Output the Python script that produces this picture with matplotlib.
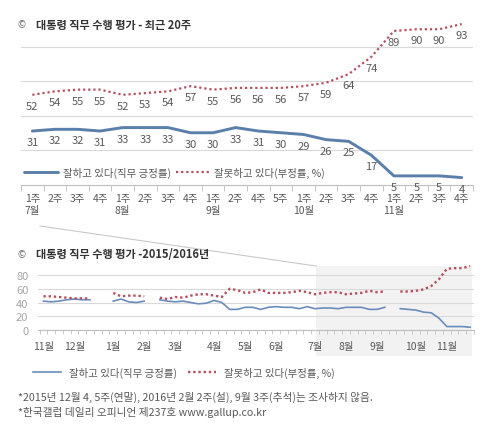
import numpy as np
import matplotlib
matplotlib.use('Agg')
import matplotlib.pyplot as plt
from matplotlib.lines import Line2D
from matplotlib.patches import Rectangle

plt.rcParams['font.family'] = ['Noto Sans CJK KR', 'DejaVu Sans']

# 최근 20주 (2016년 7월 1주 ~ 11월 4주, 9월 3주 제외)
recent_weeks = ['1주', '2주', '3주', '4주', '1주', '2주', '3주', '4주', '1주', '2주',
                '4주', '5주', '1주', '2주', '3주', '4주', '1주', '2주', '3주', '4주']
recent_months = ['7월', '', '', '', '8월', '', '', '', '9월', '', '', '',
                 '10월', '', '', '', '11월', '', '', '']
recent_pos = [31, 32, 32, 31, 33, 33, 33, 30, 30, 33, 31, 30, 29, 26, 25, 17, 5, 5, 5, 4]
recent_neg = [52, 54, 55, 55, 52, 53, 54, 57, 55, 56, 56, 56, 57, 59, 64, 74, 89, 90, 90, 93]

# 2015/2016년 주간 (2015년 11월 1주 ~ 2016년 6월 마지막 주), None = 조사 안 함
early_pos = [42, 41, 42, 44, 45, 44, 44, None, None, 42, 45, 41, 40, 42, None,
             44, 42, 41, 42, 40, 38, 39, 43, 40, 30, 30, 33, 33, 30, 33, 34, 33, 33, 31, 34]
early_neg = [49, 49, 48, 47, 46, 46, 46, None, None, 54, 49, 50, 50, 49, None,
             47, 45, 48, 47, 50, 52, 52, 50, 48, 60, 58, 54, 55, 59, 54, 54, 54, 55, 57, 55]
month_names = ['11월', '12월', '1월', '2월', '3월', '4월', '5월', '6월',
               '7월', '8월', '9월', '10월', '11월']
weeks_per_month = [4, 5, 4, 4, 5, 4, 4, 5, 4, 4, 5, 4, 4]

legend_pos = '잘하고 있다(직무 긍정률)'
legend_neg = '잘못하고 있다(부정률, %)'

blue = '#5b7fab'
red = '#b5505f'
grid_c = '#d9d9d9'
text_c = '#595959'

W, H = 495, 435
def fx(px):
    return px / W
def fy(py):
    return 1 - py / H

fig = plt.figure(figsize=(W / 100, H / 100), dpi=100)

# ---------- 위 차트: 최근 20주 ----------
ax1 = fig.add_axes([fx(21), fy(185.5), (473 - 21) / W, (185.5 - 13) / H])
ax1.patch.set_alpha(0)
x1 = np.arange(len(recent_pos))
l1, = ax1.plot(x1, recent_pos, color=blue, lw=2.1, solid_capstyle='round')
l2, = ax1.plot(x1, recent_neg, color=red, lw=1.6, linestyle=(0, (1, 1.3)))
for xi, v in zip(x1, recent_pos):
    ax1.annotate(str(v), (xi, v), xytext=(0, -8), textcoords='offset points',
                 ha='center', va='center', fontsize=8, color=text_c)
for xi, v in zip(x1, recent_neg):
    ax1.annotate(str(v), (xi, v), xytext=(0, -8), textcoords='offset points',
                 ha='center', va='center', fontsize=8, color=text_c)
ax1.set_xlim(-0.5, len(recent_pos) - 0.5)
ax1.set_ylim(0, 100)
ax1.set_yticks([20, 40, 60, 80])
ax1.yaxis.grid(True, color=grid_c, lw=0.8)
ax1.tick_params(axis='y', length=0, labelleft=False)
labels1 = [w + ('\n' + m if m else '') for w, m in zip(recent_weeks, recent_months)]
ax1.set_xticks(x1, labels1)
ax1.set_xticks(np.arange(-0.5, len(recent_pos)), minor=True)
ax1.tick_params(axis='x', which='major', length=0, pad=6, labelsize=7.5, labelcolor=text_c)
ax1.tick_params(axis='x', which='minor', length=4, color='#bfbfbf')
for tl in ax1.get_xticklabels():
    tl.set_verticalalignment('top')
    tl.set_linespacing(1.3)
for s in ['top', 'right', 'left']:
    ax1.spines[s].set_visible(False)
ax1.spines['bottom'].set_color('#bfbfbf')
ax1.set_axisbelow(True)
fig.legend([l1, l2], [legend_pos, legend_neg], loc='center left',
           bbox_to_anchor=(fx(24), fy(173)), ncol=2, frameon=False, fontsize=7.5,
           handlelength=3.3, handletextpad=0.4, columnspacing=0.5,
           borderpad=0, borderaxespad=0, labelcolor=text_c)

fig.text(fx(18), fy(25), '©', fontsize=7, color='#666666', va='center')
fig.text(fx(36), fy(25), '대통령 직무 수행 평가 - 최근 20주', fontsize=8,
         fontweight='bold', color='#333333', va='center')

# ---------- 아래 차트: 2015/2016년 ----------
gap = [None]
all_pos = early_pos + recent_pos[:10] + gap + recent_pos[10:]
all_neg = early_neg + recent_neg[:10] + gap + recent_neg[10:]
all_pos = np.array([np.nan if v is None else v for v in all_pos], dtype=float)
all_neg = np.array([np.nan if v is None else v for v in all_neg], dtype=float)
x2 = np.arange(len(all_pos))
month_start = np.concatenate([[0], np.cumsum(weeks_per_month)[:-1]])

ax2 = fig.add_axes([fx(38), fy(331), (474 - 38) / W, (331 - 265.7) / H])
ax2.patch.set_alpha(0)
m1, = ax2.plot(x2, all_pos, color='#6a8cbc', lw=1.2)
m2, = ax2.plot(x2, all_neg, color=red, lw=1.7, linestyle=(0, (1, 1.2)))
ax2.set_xlim(-0.7, sum(weeks_per_month) - 0.7)
ax2.set_ylim(0, 95)
ax2.set_yticks([0, 20, 40, 60, 80])
ax2.yaxis.grid(True, color=grid_c, lw=0.8)
ax2.tick_params(axis='y', length=0, labelsize=8, labelcolor='#a6a6a6', pad=7)
ax2.set_xticks(month_start, month_names)
ax2.set_xticks(np.arange(-0.5, sum(weeks_per_month)), minor=True)
ax2.tick_params(axis='x', which='major', length=0, pad=8, labelsize=7.5, labelcolor=text_c)
ax2.tick_params(axis='x', which='minor', length=3, color='#bfbfbf')
for s in ['top', 'right', 'left']:
    ax2.spines[s].set_visible(False)
ax2.spines['bottom'].set_color('#bfbfbf')

# 최근 20주 구간 음영과 연결선
fig.patches.append(Rectangle((fx(316), fy(357)), (472 - 316) / W, (357 - 267) / H,
                             transform=fig.transFigure, facecolor='#f2f2f2',
                             edgecolor='none', zorder=-1))
fig.add_artist(Line2D([fx(40), fx(316)], [fy(227), fy(267)], transform=fig.transFigure,
                      color='#c8c8c8', lw=0.8))

fig.text(fx(18), fy(255), '©', fontsize=7, color='#666666', va='center')
fig.text(fx(36), fy(255), '대통령 직무 수행 평가 -2015/2016년', fontsize=8,
         fontweight='bold', color='#333333', va='center')

fig.legend([m1, m2], [legend_pos, legend_neg], loc='center left',
           bbox_to_anchor=(fx(33), fy(373)), ncol=2, frameon=False, fontsize=7.5,
           handlelength=2.7, handletextpad=0.8, columnspacing=1.0,
           borderpad=0, borderaxespad=0, labelcolor=text_c)

fig.text(fx(18), fy(397), '*2015년 12월 4, 5주(연말), 2016년 2월 2주(설), 9월 3주(추석)는 조사하지 않음.',
         fontsize=7.7, color=text_c, va='center')
fig.text(fx(18), fy(413), '*한국갤럽 데일리 오피니언 제237호 www.gallup.co.kr',
         fontsize=7.7, color=text_c, va='center')

fig.savefig('out.png', dpi=100)
